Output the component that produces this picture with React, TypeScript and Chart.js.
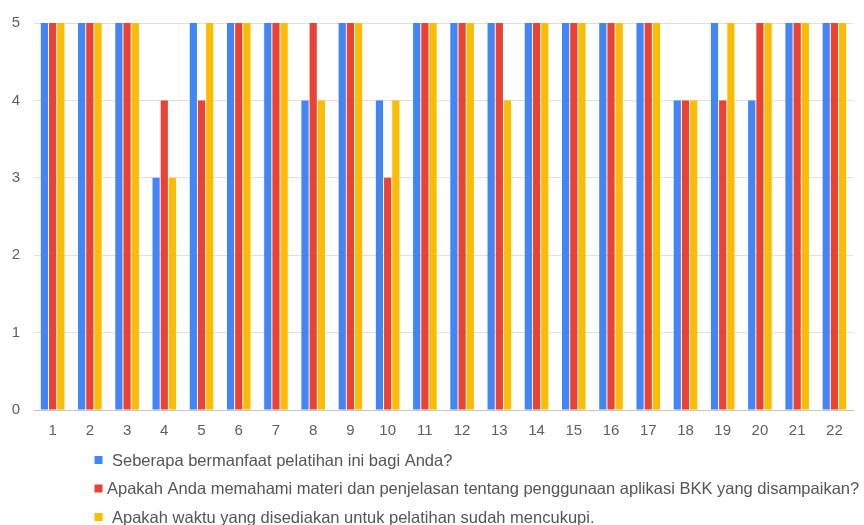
import React, { useEffect, useRef } from "react";
import { Chart, registerables } from "chart.js";

Chart.register(...registerables);

const categories = ["1","2","3","4","5","6","7","8","9","10","11","12","13","14","15","16","17","18","19","20","21","22"];
const seriesLabels = [
  "Seberapa bermanfaat pelatihan ini bagi Anda?",
  "Apakah Anda memahami materi dan penjelasan tentang penggunaan aplikasi BKK yang disampaikan?",
  "Apakah waktu yang disediakan untuk pelatihan sudah mencukupi.",
];
const manfaat = [5,5,5,3,5,5,5,4,5,4,5,5,5,5,5,5,5,4,5,4,5,5];
const memahami = [5,5,5,4,4,5,5,5,5,3,5,5,5,5,5,5,5,4,4,5,5,5];
const waktu = [5,5,5,3,5,5,5,4,5,4,5,5,4,5,5,5,5,4,5,5,5,5];
const colors = ["#4285F4", "#EA4335", "#FBBC04"];
const yTicks = [0, 1, 2, 3, 4, 5];

const FONT = "'Liberation Sans', Arial, sans-serif";

const legendPlugin = {
  id: "customLegend",
  afterDraw(chart: any) {
    const ctx = chart.ctx;
    ctx.save();
    ctx.font = `16.5px ${FONT}`;
    ctx.textBaseline = "middle";
    const ys = [460, 488.5, 517];
    const xs = [112, 107, 112];
    chart.data.datasets.forEach((ds: any, i: number) => {
      ctx.fillStyle = ds.backgroundColor;
      ctx.fillRect(94.5, ys[i] - 4, 8, 8);
      ctx.fillStyle = "#555555";
      ctx.fillText(ds.label, xs[i], ys[i] + 1);
    });
    ctx.restore();
  },
};

export default function App() {
  const ref = useRef<HTMLCanvasElement>(null);
  useEffect(() => {
    if (!ref.current) return;
    const data = [manfaat, memahami, waktu];
    const chart = new Chart(ref.current, {
      type: "bar",
      data: {
        labels: categories,
        datasets: data.map((d, i) => ({
          label: seriesLabels[i],
          data: d,
          backgroundColor: colors[i],
          borderWidth: 0,
          categoryPercentage: 0.66,
          barPercentage: 0.88,
        })),
      },
      options: {
        responsive: false,
        animation: false,
        devicePixelRatio: 1,
        layout: { padding: { top: 22, right: 11, bottom: 85, left: 0 } },
        plugins: { legend: { display: false }, tooltip: { enabled: false } },
        scales: {
          x: {
            grid: { display: false, drawTicks: false },
            border: { color: "#c4c4c4" },
            ticks: { color: "#5f5f5f", font: { family: FONT, size: 15 }, padding: 12, maxRotation: 0, autoSkip: false },
            afterFit: (s: any) => { s.height = 30; },
          },
          y: {
            min: 0,
            max: 5,
            afterBuildTicks: (s: any) => { s.ticks = yTicks.map((v) => ({ value: v })); },
            grid: { color: "#e0e0e0", drawTicks: false },
            border: { display: false },
            ticks: { color: "#5f5f5f", font: { family: FONT, size: 15 }, padding: 14 },
            afterFit: (s: any) => { s.width = 34; },
          },
        },
      },
      plugins: [legendPlugin],
    });
    return () => chart.destroy();
  }, []);
  return (
    <div style={{ position: "absolute", left: 0, top: 0, width: 864, height: 525, background: "#fff" }}>
      <canvas ref={ref} width={864} height={525} />
    </div>
  );
}
